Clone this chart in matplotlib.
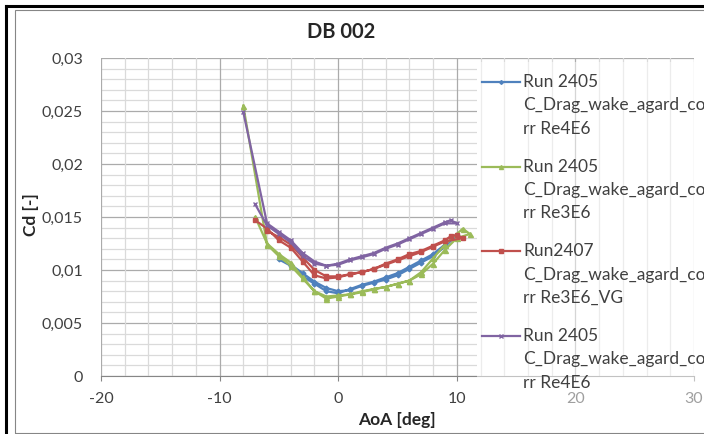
import matplotlib.pyplot as plt
import numpy as np
from matplotlib.lines import Line2D
from matplotlib.patches import Rectangle
from matplotlib.ticker import MultipleLocator, FuncFormatter

plt.rcParams['font.family'] = ['Lato', 'DejaVu Sans']

# angle of attack sweeps (up, then back down) and wake drag coefficient
aoa_2405_re4 = [-5, -4, -3, -2, -1, 0, 1, 2, 3, 4, 5, 6, 7, 8, 9, 10,
                9, 8, 7, 6, 5, 4, 3, 2, 1, 0, -1, -2, -3, -4]
cd_2405_re4 = [0.0110, 0.0104, 0.0094, 0.0087, 0.0080, 0.0078, 0.0082, 0.0086,
               0.0089, 0.0093, 0.0097, 0.0103, 0.0109, 0.0115, 0.0124, 0.0133,
               0.0122, 0.0113, 0.0107, 0.0101, 0.0095, 0.0091, 0.0088, 0.0085,
               0.0081, 0.0080, 0.0083, 0.0089, 0.0097, 0.0105]

aoa_2405_re3 = [-7, -6, -5, -4, -3, -2, -1, 0, 1, 2, 3, 4, 5, 6, 7, 8, 9, 10,
                10.5, 11.1, 10, 9, 8, 7, 6, 5, 4, 3, 2, 1, 0, -1, -2, -3, -4,
                -5, -6, -8]
cd_2405_re3 = [0.0150, 0.0125, 0.0115, 0.0107, 0.0093, 0.0080, 0.0073, 0.0075,
               0.0077, 0.0080, 0.0082, 0.0084, 0.0087, 0.0090, 0.0098, 0.0111,
               0.0124, 0.0134, 0.0139, 0.0134, 0.0130, 0.0119, 0.0106, 0.0096,
               0.0090, 0.0087, 0.0084, 0.0082, 0.0079, 0.0077, 0.0076, 0.0075,
               0.0080, 0.0092, 0.0104, 0.0113, 0.0124, 0.0255]

aoa_2407_vg = [-7, -6, -5, -4, -3, -2, -1, 0, 1, 2, 3, 4, 5, 6, 7, 8, 9, 9.5,
               10, 10.5, 9, 8, 7, 6, 5, 4, 3, 2, 1, 0, -1, -2, -3, -4, -5, -6]
cd_2407_vg = [0.0147, 0.0139, 0.0128, 0.0121, 0.0108, 0.0095, 0.0092, 0.0093,
              0.0096, 0.0098, 0.0101, 0.0106, 0.0110, 0.0115, 0.0118, 0.0123,
              0.0128, 0.0132, 0.0133, 0.0130, 0.0127, 0.0122, 0.0117, 0.0113,
              0.0109, 0.0105, 0.0101, 0.0098, 0.0096, 0.0094, 0.0094, 0.0100,
              0.0112, 0.0124, 0.0131, 0.0137]

aoa_2405_re4b = [-7, -6, -5, -4, -3, -2, -1, 0, 1, 2, 3, 4, 5, 6, 7, 8, 9, 9.5,
                 10, 9, 8, 7, 6, 5, 4, 3, 2, 1, 0, -1, -2, -3, -4, -5, -6, -8]
cd_2405_re4b = [0.0162, 0.0142, 0.0134, 0.0126, 0.0113, 0.0106, 0.0104, 0.0106,
                0.0110, 0.0113, 0.0116, 0.0121, 0.0125, 0.0130, 0.0135, 0.0140,
                0.0145, 0.0147, 0.0144, 0.0144, 0.0139, 0.0134, 0.0129, 0.0124,
                0.0120, 0.0115, 0.0112, 0.0109, 0.0105, 0.0104, 0.0108, 0.0116,
                0.0128, 0.0136, 0.0144, 0.0249]

labels = [['Run 2405', 'C_Drag_wake_agard_co', 'rr Re4E6'],
          ['Run 2405', 'C_Drag_wake_agard_co', 'rr Re3E6'],
          ['Run2407', 'C_Drag_wake_agard_co', 'rr Re3E6_VG'],
          ['Run 2405', 'C_Drag_wake_agard_co', 'rr Re4E6']]

series = [(aoa_2405_re4, cd_2405_re4, '#4F81BD', 'D', 2.4),
          (aoa_2405_re3, cd_2405_re3, '#9BBB59', '^', 3.6),
          (aoa_2407_vg, cd_2407_vg, '#C0504D', 's', 3.4),
          (aoa_2405_re4b, cd_2405_re4b, '#8064A2', 'x', 3.4)]

W, H = 704, 434
def fx(px):
    return px / W
def fy(py):
    return 1 - py / H

fig = plt.figure(figsize=(W / 100, H / 100), dpi=100)
ax = fig.add_axes([fx(101), fy(376), (694 - 101) / W, (376 - 58) / H])

for x, y, c, m, ms in series:
    ax.plot(x, y, color=c, lw=1.6, marker=m, ms=ms, mew=1.0, zorder=2)

ax.set_xlim(-20, 30)
ax.set_ylim(0, 0.03)
ax.xaxis.set_major_locator(MultipleLocator(10))
ax.xaxis.set_minor_locator(MultipleLocator(2))
ax.yaxis.set_major_locator(MultipleLocator(0.005))
ax.yaxis.set_minor_locator(MultipleLocator(0.001))
comma = FuncFormatter(lambda v, p: f'{v:g}'.replace('.', ','))
ax.xaxis.set_major_formatter(comma)
ax.yaxis.set_major_formatter(comma)

ax.grid(which='major', color='#ababab', lw=0.9)
ax.grid(which='minor', color='#dadada', lw=0.9)
for side in ['top', 'right', 'left']:
    ax.spines[side].set_visible(False)
ax.spines['bottom'].set_color('#868686')
ax.tick_params(axis='x', which='major', length=3.6, width=0.8, color='#868686',
               pad=8, labelsize=11.5, labelcolor='#404040')
ax.tick_params(axis='y', which='major', length=0, pad=13, labelsize=11.5,
               labelcolor='#404040')
ax.tick_params(which='minor', length=0)

# horizontal grid stops behind the legend box, vertical grid shows through
ax.yaxis.set_zorder(0.5)
ax.add_patch(Rectangle((11.7, 0), 18.3, 0.0296, fc='white', ec='none', zorder=0.6))
ax.xaxis.set_zorder(0.7)

fig.add_artist(Rectangle((fx(477), fy(412)), 1 - fx(477), (412 - 62) / H,
                         transform=fig.transFigure, fc='white', ec='none',
                         alpha=0.5, zorder=3))

# legend, handle sits on the first line of each wrapped label
for i, ((x, y, c, m, ms), lines) in enumerate(zip(series, labels)):
    y0 = 82 + i * 84.7
    fig.add_artist(Line2D([fx(482), fx(501), fx(520)], [fy(y0)] * 3,
                          transform=fig.transFigure, color=c, lw=1.6,
                          marker=m, ms=ms * 0.8, markevery=[1], zorder=5))
    for j, line in enumerate(lines):
        fig.text(fx(523), fy(y0 + j * 23.3), line, ha='left', va='center',
                 fontsize=12.5, color='#404040', zorder=5)

fig.text(fx(341), fy(31.5), 'DB 002', ha='center', va='center',
         fontsize=14.5, fontweight='bold', color='#262626')
fig.text(fx(31), fy(215), 'Cd [-]', ha='center', va='center', rotation=90,
         fontsize=12.5, fontweight='bold', color='#262626')
fig.text(fx(397), fy(420), 'AoA [deg]', ha='center', va='center',
         fontsize=12.5, fontweight='bold', color='#262626')

# outer frame lines
fig.add_artist(Line2D([fx(5.5), 1], [fy(5.5), fy(5.5)], transform=fig.transFigure,
                      color='black', lw=2.2))
fig.add_artist(Line2D([fx(5.5), fx(5.5)], [fy(5.5), 0], transform=fig.transFigure,
                      color='black', lw=2.2))
fig.add_artist(Rectangle((fx(14.5), fy(433.3)), 1.1, (433.3 - 9.5) / H,
                         transform=fig.transFigure, fc='none', ec='#868686', lw=0.8))

fig.savefig('out.png', dpi=100)
